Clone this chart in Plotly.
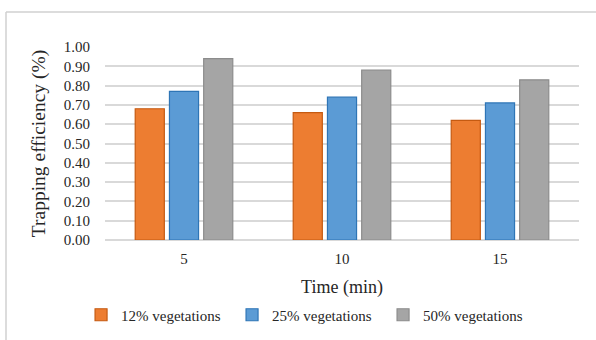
import plotly.graph_objects as go

times = ["5", "10", "15"]
series_names = ["12% vegetations", "25% vegetations", "50% vegetations"]
veg12 = [0.68, 0.66, 0.62]
veg25 = [0.77, 0.74, 0.71]
veg50 = [0.94, 0.88, 0.83]
y_ticks = [0.0, 0.1, 0.2, 0.3, 0.4, 0.5, 0.6, 0.7, 0.8, 0.9, 1.0]

fills = ["#ED7D31", "#5B9BD5", "#A5A5A5"]
edges = ["#C55A11", "#2E75B6", "#8C8C8C"]

fig = go.Figure()
for name, vals, fc, ec in zip(series_names, [veg12, veg25, veg50], fills, edges):
    fig.add_trace(go.Bar(x=times, y=vals, name=name,
                         marker=dict(color=fc, line=dict(color=ec, width=1.2))))

W, H = 596, 340
ml, mr, mt, mb = 105, 17, 47, 100
pw, ph = W - ml - mr, H - mt - mb

font = "Liberation Serif"
fig.update_layout(
    width=W, height=H,
    margin=dict(l=ml, r=mr, t=mt, b=mb, autoexpand=False),
    paper_bgcolor="white", plot_bgcolor="white",
    barmode="group", bargap=0.35, bargroupgap=0.15,
    font=dict(family=font, color="#262626", size=15),
    showlegend=True,
    legend=dict(orientation="h", xref="container", yref="container",
                x=0.136, xanchor="left", y=1 - 315 / H, yanchor="middle",
                font=dict(family=font, size=15, color="#262626"),
                entrywidth=106, entrywidthmode="pixels",
                itemwidth=30, traceorder="normal"),
    xaxis=dict(showgrid=False, showline=False, ticks="", automargin=False,
               ticklabelstandoff=8,
               tickfont=dict(family=font, size=15, color="#262626"),
               title=dict(text="Time (min)", font=dict(family=font, size=18, color="#262626"),
                          standoff=18)),
    yaxis=dict(range=[0, 1.0], tickvals=y_ticks, ticktext=[f"{v:.2f}" for v in y_ticks],
               showgrid=True, gridcolor="#D9D9D9", gridwidth=1.5,
               zeroline=True, zerolinecolor="#D9D9D9", zerolinewidth=1.5,
               showline=False, ticks="", ticklabelstandoff=14, automargin=False,
               tickfont=dict(family=font, size=15, color="#262626"),
               title=dict(text="Trapping efficiency (%)",
                          font=dict(family=font, size=19.5, color="#262626"),
                          standoff=12)),
)

# chart frame (top and left edges visible)
lx = (6 - ml) / pw
ty = (H - mb - 12) / ph
fig.add_shape(type="line", xref="paper", yref="paper", x0=lx, x1=1.2, y0=ty, y1=ty,
              line=dict(color="#D0D0D0", width=1.5))
fig.add_shape(type="line", xref="paper", yref="paper", x0=lx, x1=lx, y0=ty, y1=-0.6,
              line=dict(color="#D0D0D0", width=1.5))

fig.write_html("out.html", config={"displayModeBar": False},
               post_script="document.body.style.margin='0';")
